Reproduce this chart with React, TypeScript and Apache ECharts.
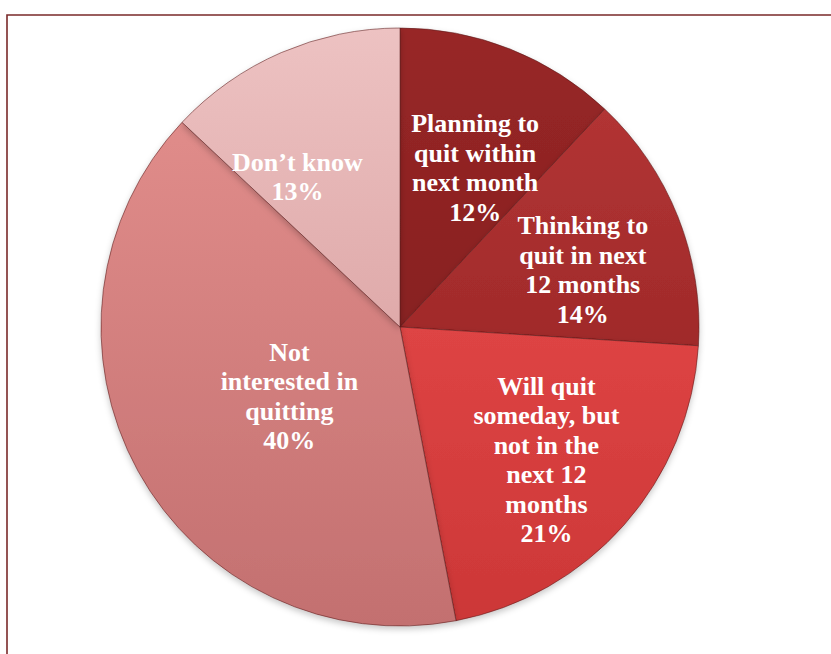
import React, { useEffect, useRef } from "react";
import * as echarts from "echarts";

const categories = [
  "Planning to\nquit within\nnext month",
  "Thinking to\nquit in next\n12 months",
  "Will quit\nsomeday, but\nnot in the\nnext 12\nmonths",
  "Not\ninterested in\nquitting",
  "Don\u2019t know",
];
const values = [12, 14, 21, 40, 13];
const topColors = ["#982727", "#b23434", "#de4444", "#e08c8a", "#edc2c2"];
const bottomColors = ["#882020", "#a02a2a", "#cc3737", "#c37070", "#dfaaaa"];
const labelShift = [
  [19, -17],
  [41, -1],
  [32, 32],
  [23, -4],
  [-42, -10],
];

export default function App() {
  const ref = useRef<HTMLDivElement>(null);
  useEffect(() => {
    if (!ref.current) return;
    const chart = echarts.init(ref.current, undefined, { renderer: "svg" });
    chart.setOption({
      animation: false,
      backgroundColor: "#ffffff",
      graphic: [
        {
          type: "rect",
          shape: { x: 7, y: 15, width: 900, height: 700 },
          style: { fill: "none", stroke: "#7a2a2a", lineWidth: 1.6 },
          silent: true,
        },
      ],
      series: [
        {
          type: "pie",
          center: [400, 327],
          radius: [0, 299],
          startAngle: 90,
          clockwise: true,
          avoidLabelOverlap: false,
          data: values.map((v, i) => ({
            name: categories[i],
            value: v,
            itemStyle: {
              color: {
                type: "linear",
                x: 0,
                y: 0,
                x2: 0,
                y2: 1,
                colorStops: [
                  { offset: 0, color: topColors[i] },
                  { offset: 1, color: bottomColors[i] },
                ],
              },
            },
          })),
          itemStyle: {
            borderColor: "rgba(90,25,25,0.55)",
            borderWidth: 1,
            shadowBlur: 6,
            shadowOffsetY: 3,
            shadowColor: "rgba(0,0,0,0.22)",
          },
          label: {
            show: true,
            position: "inside",
            formatter: (p: any) => `${p.name}\n${p.value}%`,
            color: "#ffffff",
            fontFamily: "Liberation Serif",
            fontWeight: "bold",
            fontSize: 26,
            lineHeight: 29.5,
            align: "center",
          },
          labelLayout: (p: any) => ({
            dx: labelShift[p.dataIndex][0],
            dy: labelShift[p.dataIndex][1],
          }),
          labelLine: { show: false },
          emphasis: { disabled: true },
        },
      ],
    });
    return () => chart.dispose();
  }, []);
  return (
    <div
      ref={ref}
      style={{ position: "fixed", left: 0, top: 0, width: 831, height: 654 }}
    />
  );
}
